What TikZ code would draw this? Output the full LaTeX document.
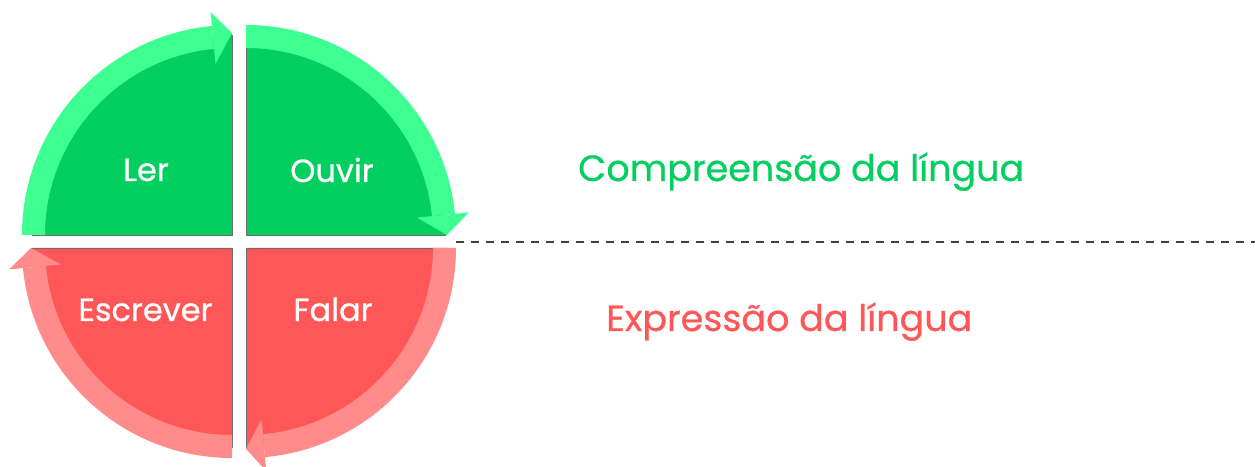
\documentclass[tikz,border=0pt]{standalone}
\usepackage{fontspec}
\newfontfamily\popfont[FakeBold=0.7]{Poppins}
\definecolor{dgreen}{RGB}{2,207,96}
\definecolor{lgreen}{RGB}{61,255,146}
\definecolor{dred}{RGB}{255,87,87}
\definecolor{lred}{RGB}{255,139,139}
\definecolor{edgegray}{RGB}{110,110,110}
\tikzset{
  edgeline/.style={draw=edgegray, line width=0.9pt},
  inlabel/.style={text=white, font=\popfont\fontsize{32}{38}\selectfont, inner sep=0pt, anchor=base},
  sidelabel/.style={font=\popfont\fontsize{36.5}{44}\selectfont, inner sep=0pt, anchor=base west},
  divider/.style={draw=black!75, line width=1.5pt, dash pattern=on 8pt off 7pt}
}
\begin{document}
\begin{tikzpicture}[x=1pt,y=1pt]
\useasboundingbox (0,0) rectangle (1255,466);
% ---------- Ler (top left)
\begin{scope}[shift={(232,231)}]
  \fill[dgreen] (0,0) -- (180:201) arc[start angle=180,end angle=90,radius=201] -- cycle;
  \draw[edgeline] (0,200) -- (0,0) -- (-200,0);
  \fill[lgreen] (180:187) arc[start angle=180,end angle=95.5,radius=187] -- (95.5:210) arc[start angle=95.5,end angle=180,radius=210] -- cycle;
  \fill[lgreen] (95.5:172) -- (95.5:224) -- (90:202) -- cycle;
\end{scope}
% ---------- Ouvir (top right)
\begin{scope}[shift={(246,231)}]
  \fill[dgreen] (0,0) -- (90:201) arc[start angle=90,end angle=0,radius=201] -- cycle;
  \draw[edgeline] (0,200) -- (0,0) -- (200,0);
  \fill[lgreen] (90:187) arc[start angle=90,end angle=5.8,radius=187] -- (5.8:210) arc[start angle=5.8,end angle=90,radius=210] -- cycle;
  \fill[lgreen] (5.8:172) -- (5.8:224) -- (0:201) -- cycle;
\end{scope}
% ---------- Falar (bottom right)
\begin{scope}[shift={(246,218)}]
  \fill[dred] (0,0) -- (0:201) arc[start angle=0,end angle=-90,radius=201] -- cycle;
  \draw[edgeline] (200,0) -- (0,0) -- (0,-200);
  \fill[lred] (0:187) arc[start angle=0,end angle=-84.8,radius=187] -- (-84.8:210) arc[start angle=-84.8,end angle=0,radius=210] -- cycle;
  \fill[lred] (-84.8:172) -- (-84.8:224) -- (-90:201) -- cycle;
\end{scope}
% ---------- Escrever (bottom left)
\begin{scope}[shift={(232,218)}]
  \fill[dred] (0,0) -- (-90:201) arc[start angle=-90,end angle=-180,radius=201] -- cycle;
  \draw[edgeline] (0,-200) -- (0,0) -- (-200,0);
  \fill[lred] (-90:187) arc[start angle=-90,end angle=-174.5,radius=187] -- (-174.5:210) arc[start angle=-174.5,end angle=-90,radius=210] -- cycle;
  \fill[lred] (-174.5:172) -- (-174.5:224) -- (-180:201) -- cycle;
\end{scope}
% ---------- labels
\node[inlabel] (ler) at (146,285) {Ler};
\node[inlabel] (ouvir) at (332,284) {Ouvir};
\node[inlabel] (escrever) at (145.5,145) {Escrever};
\node[inlabel] (falar) at (333,145) {Falar};
\node[sidelabel, text=dgreen] (comp) at (578,285) {Compreensão da língua};
\node[sidelabel, text=dred] (expr) at (606,135) {Expressão da língua};
% ---------- divider
\coordinate (dl) at (456,224);
\coordinate (dr) at (1255,224);
\draw[divider] (dl) -- (dr);
\end{tikzpicture}
\end{document}
